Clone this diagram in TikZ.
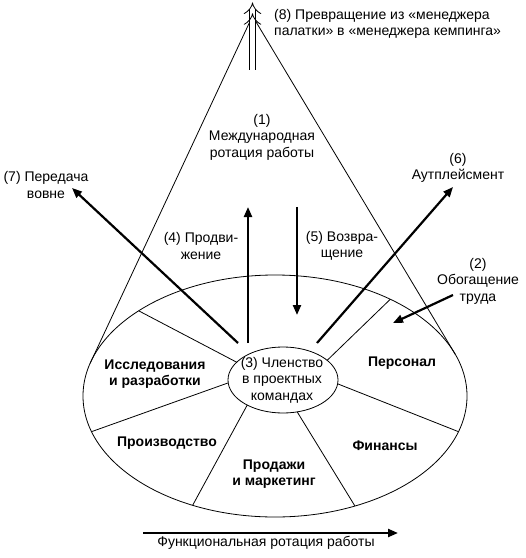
\documentclass[tikz,border=0pt]{standalone}
\usepackage{fontspec}
\setmainfont{Liberation Sans}
\usetikzlibrary{arrows.meta,shapes.geometric}
\tikzset{
  rim/.style={line width=0.8bp},
  lbl/.style={align=center, inner sep=0pt, font=\fontsize{14bp}{16.5bp}\selectfont},
  dept/.style={lbl, font=\fontsize{14bp}{16.5bp}\selectfont\bfseries},
  move/.style={line width=2.2bp, -{Triangle[length=10bp,width=8bp]}}
}
\begin{document}
\begin{tikzpicture}[x=1bp,y=-1bp]
  \useasboundingbox (0,0) rectangle (526,558);
  % the wheel of functions
  \node[ellipse, draw, rim, minimum width=384bp, minimum height=242bp, inner sep=0pt, outer sep=0pt] (wheel) at (275,396) {};
  \node[ellipse, draw, rim, minimum width=110bp, minimum height=66bp, inner sep=0pt, outer sep=0pt] (team) at (283,380) {};
  \foreach \a/\b in {159/148, 183/191, 215/233, 294/306, 356/349, 24/40}
    \draw[rim] (team.\a) -- (wheel.\b);
  % cone and the upward arrow
  \coordinate (apex) at (252.5,16);
  \draw[rim] (wheel.170) -- (apex) -- (wheel.13);
  \coordinate (upfoot) at (252.5,70);
  \coordinate (uptip) at (252.5,2.5);
  \draw[rim, double, double distance=5.5bp, -{Implies[]Implies[]}] (upfoot) -- (uptip);
  % labels
  \node[lbl, align=left, anchor=west] (camp) at (274,24) {(8) Превращение из «менеджера\\палатки» в «менеджера кемпинга»};
  \node[lbl] (intl) at (262,137) {(1)\\Международная\\ротация работы};
  \node[lbl] (outside) at (46,185) {(7) Передача\\вовне};
  \node[lbl] (promo) at (201,246) {(4) Продви-\\жение};
  \node[lbl] (back) at (342,246) {(5) Возвра-\\щение};
  \node[lbl] (outpl) at (458,168) {(6)\\Аутплейсмент};
  \node[lbl] (enrich) at (478,281) {(2)\\Обогащение\\труда};
  \node[lbl] (member) at (282,380) {(3) Членство\\в проектных\\командах};
  \node[dept] (rd) at (155,374) {Исследования\\и разработки};
  \node[dept] (staff) at (402,363) {Персонал};
  \node[dept] (make) at (167,443) {Производство};
  \node[dept] (money) at (385,446) {Финансы};
  \node[dept] (sales) at (274,474) {Продажи\\и маркетинг};
  \node[lbl] (func) at (266,543) {Функциональная ротация работы};
  % movements
  \coordinate (s7) at (238,343);  \coordinate (t7) at (72,188);
  \coordinate (s4) at (248,343);  \coordinate (t4) at (248,207);
  \coordinate (s5) at (297,207);  \coordinate (t5) at (297,315);
  \coordinate (s6) at (317,343);  \coordinate (t6) at (453,187);
  \coordinate (s2) at (453,295);  \coordinate (t2) at (393,323);
  \coordinate (sf) at (143,533);  \coordinate (tf) at (398,533);
  \foreach \p in {7,4,5,6,2,f}
    \draw[move] (s\p) -- (t\p);
\end{tikzpicture}
\end{document}
